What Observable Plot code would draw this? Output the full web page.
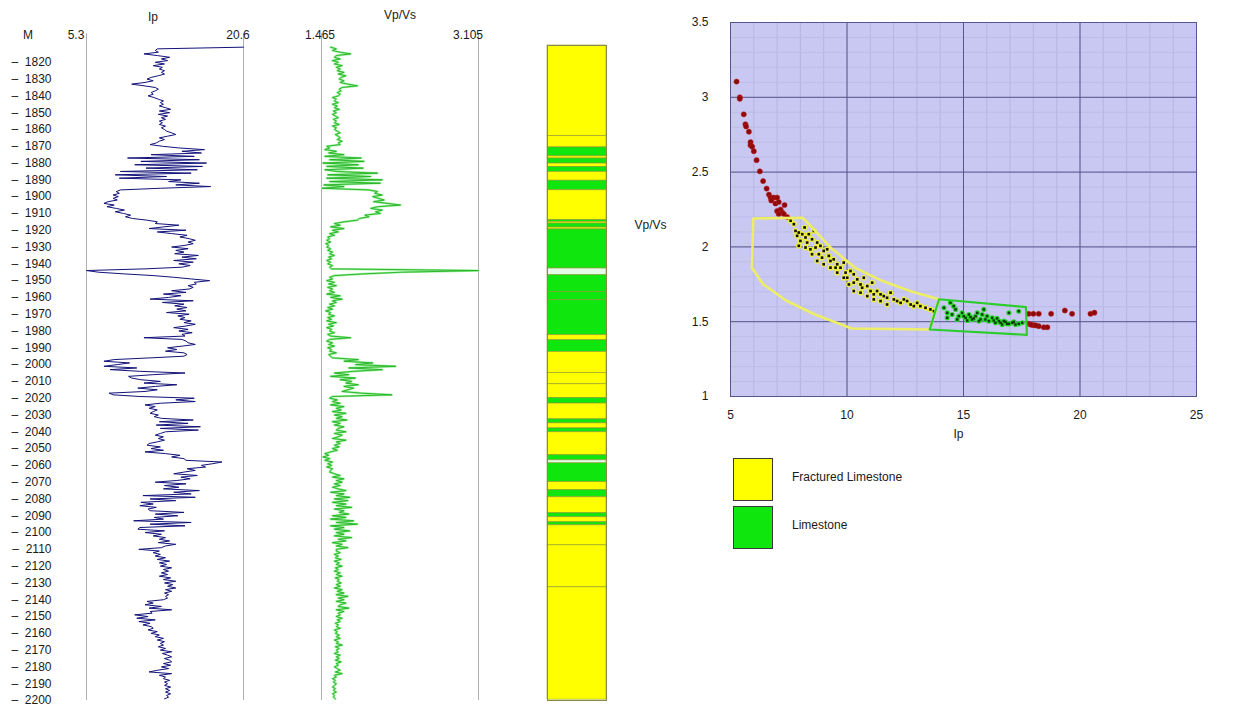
<!DOCTYPE html>
<html><head><meta charset="utf-8">
<script src="https://cdn.jsdelivr.net/npm/d3@7"></script>
<script src="https://cdn.jsdelivr.net/npm/@observablehq/plot@0.6"></script>
<style>
body{margin:0;background:#fff;font-family:"Liberation Sans",Arial,sans-serif;}
#root{position:relative;width:1246px;height:709px;overflow:hidden;background:#fff;}
.lbl{position:absolute;font-size:12px;color:#1a1a1a;white-space:nowrap;transform:translate(-50%,-50%);line-height:1;}
.lbl.left{transform:translate(0,-50%);}
.sw{position:absolute;width:38px;height:41px;border:1px solid #3a3a3a;}
</style></head><body><div id="root"></div>
<script>
// ---------- DATA ----------
const depthStart = 1811;           // first log sample (m), 1 m sampling
const depthRange = [1810, 2200];
const depthTicks = [1820,1830,1840,1850,1860,1870,1880,1890,1900,1910,1920,1930,1940,1950,1960,1970,1980,1990,2000,2010,2020,2030,2040,2050,2060,2070,2080,2090,2100,2110,2120,2130,2140,2150,2160,2170,2180,2190,2200];
const ipRange = [5.3, 20.6];
const vpvsRange = [1.465, 3.105];

const ipLog = [
20.6,12.2,12.0,12.3,10.9,12.2,13.4,12.6,13.2,12.0,
12.9,11.8,12.7,12.4,12.9,12.6,12.9,12.3,11.6,11.2,
11.8,11.0,9.7,10.9,12.0,12.3,12.0,11.6,11.8,11.3,
11.9,12.3,12.8,12.5,12.8,12.4,13.0,13.5,12.4,13.4,
12.3,13.2,12.6,13.0,12.4,12.7,12.4,13.0,12.6,12.9,
13.1,13.6,14.0,13.2,12.4,12.9,12.4,12.1,11.5,12.7,
14.3,16.8,14.6,16.5,11.6,15.8,9.3,16.3,10.6,17.0,
10.0,16.6,11.1,16.1,8.6,15.5,8.1,13.1,8.5,14.5,
13.3,16.3,14.0,17.4,12.5,8.6,8.2,8.5,7.9,8.4,
7.9,8.3,7.4,7.0,8.0,7.3,8.2,9.0,8.1,8.9,
9.6,9.1,9.8,11.2,12.2,12.0,14.3,12.8,11.4,15.0,
12.2,13.6,15.1,14.4,15.3,15.9,15.2,15.7,14.9,13.6,
15.2,14.0,14.8,13.9,16.2,14.6,16.0,13.8,15.7,14.3,
15.4,14.6,11.0,5.3,6.5,9.0,11.8,13.8,15.5,17.3,
15.8,16.0,15.2,15.7,15.3,13.6,15.0,12.8,14.5,13.3,
11.5,15.7,12.7,14.8,13.9,15.1,14.1,15.0,13.1,15.3,
14.2,14.9,14.4,15.5,14.8,15.9,15.0,13.8,15.2,14.3,
15.6,14.6,14.9,10.9,14.6,15.0,15.2,15.9,14.6,13.2,
14.1,13.0,14.8,15.1,14.8,11.5,8.0,7.0,9.5,8.3,
7.0,10.2,7.6,10.5,14.9,11.8,9.4,9.7,10.6,12.5,
10.9,14.1,12.0,10.3,12.2,11.0,7.5,7.9,10.5,15.8,
14.0,15.9,12.5,11.0,12.0,11.4,12.2,11.8,11.5,12.3,
11.9,12.6,15.7,12.4,15.2,12.1,16.4,12.5,16.2,13.0,
12.5,12.0,12.8,12.3,12.9,12.2,11.4,11.2,12.5,11.6,
12.8,11.0,13.0,14.4,13.6,14.8,15.0,18.5,17.6,16.5,
16.9,15.1,15.9,14.8,13.8,16.1,14.5,15.4,14.1,12.0,
15.0,12.9,14.3,12.8,16.3,13.8,15.5,10.8,15.9,11.5,
14.0,10.6,11.8,10.5,12.1,11.3,11.5,14.8,12.0,14.2,
11.9,12.8,9.9,15.5,11.5,14.9,10.5,10.3,12.9,11.0,
12.6,11.8,13.0,12.4,13.4,12.3,14.0,13.0,12.6,10.4,
12.4,11.8,12.5,12.0,13.0,12.2,13.4,12.4,13.1,12.5,
13.6,12.8,13.3,12.6,13.2,12.4,13.5,12.8,14.0,12.9,
13.7,13.2,14.0,13.0,13.6,12.9,13.3,13.0,13.2,12.8,
11.2,11.8,11.0,12.6,11.4,13.6,11.5,11.7,10.0,11.3,
10.2,12.0,10.4,11.5,10.8,11.6,11.8,11.3,12.2,11.6,
12.4,12.0,12.8,12.2,12.9,12.5,12.8,12.3,13.0,12.5,
13.6,12.7,13.2,13.6,12.9,13.4,13.6,12.8,13.5,12.6,
13.3,12.2,11.4,13.6,12.4,13.0,12.8,13.4,12.9,13.2,
12.9,13.5,13.0,13.4,13.0,13.5,13.1,13.3,12.9
];

const vpvsLog = [
1.56,1.62,1.58,1.66,1.77,1.62,1.60,1.66,1.58,1.64,
1.60,1.68,1.62,1.66,1.63,1.70,1.64,1.72,1.67,1.65,
1.70,1.66,1.74,1.84,1.68,1.65,1.67,1.63,1.66,1.64,
1.58,1.62,1.60,1.64,1.58,1.63,1.60,1.65,1.59,1.62,
1.58,1.61,1.64,1.59,1.62,1.60,1.65,1.58,1.62,1.60,
1.63,1.66,1.61,1.64,1.66,1.63,1.68,1.64,1.66,1.52,
1.55,1.50,1.62,1.54,1.70,1.50,1.88,1.55,1.91,1.48,
1.85,1.52,1.90,1.50,1.62,2.05,1.53,1.98,1.52,2.10,
1.55,2.08,1.49,1.70,1.47,1.96,2.05,2.02,2.10,2.00,
2.06,2.12,2.01,2.15,2.29,2.05,1.98,2.10,2.03,2.08,
1.92,1.96,1.86,1.84,1.70,1.60,1.66,1.56,1.70,1.58,
1.64,1.55,1.60,1.53,1.55,1.52,1.56,1.51,1.54,1.52,
1.56,1.53,1.58,1.55,1.60,1.54,1.57,1.52,1.56,1.53,
1.58,1.55,1.57,3.105,2.30,1.90,1.60,1.55,1.58,1.52,
1.60,1.54,1.62,1.53,1.58,1.55,1.60,1.52,1.66,1.56,
1.68,1.58,1.62,1.55,1.60,1.53,1.58,1.51,1.56,1.54,
1.60,1.53,1.57,1.52,1.62,1.54,1.59,1.52,1.57,1.55,
1.60,1.53,1.56,1.77,1.55,1.52,1.58,1.54,1.60,1.53,
1.57,1.55,1.62,1.54,1.56,1.58,1.85,1.70,2.00,1.82,
2.24,1.75,2.10,1.80,1.60,1.75,1.56,1.82,1.66,1.78,
1.72,1.85,1.70,1.80,1.74,1.68,1.88,2.20,1.58,1.55,
1.63,1.58,1.66,1.56,1.70,1.62,1.67,1.58,1.72,1.60,
1.68,1.62,1.73,1.58,1.66,1.60,1.70,1.64,1.62,1.72,
1.60,1.68,1.64,1.58,1.72,1.62,1.66,1.60,1.65,1.58,
1.63,1.56,1.50,1.54,1.48,1.55,1.50,1.58,1.53,1.57,
1.52,1.58,1.56,1.55,1.60,1.66,1.58,1.70,1.62,1.68,
1.60,1.66,1.58,1.64,1.72,1.56,1.70,1.62,1.76,1.60,
1.74,1.58,1.72,1.62,1.78,1.60,1.70,1.65,1.75,1.58,
1.72,1.56,1.80,1.62,1.84,1.56,1.70,1.60,1.76,1.62,
1.70,1.60,1.78,1.64,1.72,1.58,1.68,1.62,1.74,1.62,
1.62,1.66,1.60,1.64,1.61,1.67,1.60,1.65,1.62,1.68,
1.61,1.64,1.60,1.66,1.62,1.68,1.61,1.65,1.63,1.67,
1.62,1.66,1.60,1.68,1.63,1.70,1.62,1.74,1.64,1.70,
1.62,1.72,1.66,1.64,1.75,1.62,1.70,1.64,1.66,1.62,
1.68,1.63,1.66,1.61,1.64,1.62,1.66,1.60,1.63,1.61,
1.65,1.62,1.66,1.60,1.64,1.62,1.68,1.61,1.65,1.62,
1.64,1.60,1.66,1.62,1.65,1.61,1.67,1.62,1.64,1.60,
1.63,1.66,1.61,1.68,1.60,1.62,1.58,1.61,1.59,1.62,
1.60,1.58,1.61,1.59,1.62,1.58,1.60,1.59,1.61
];

// Facies column
const faciesNames = ["Fractured Limestone", "Limestone", "Unassigned"];
const faciesColors = ["#ffff00", "#0ee60e", "#e4fbe8"];
const faciesTop  = [1810,1864,1870.7,1876,1877.3,1880.3,1882.3,1885.3,1890.5,1896.2,1914,1915,1916,1918.4,1919.5,1942.8,1946.8,1956.7,1961.7,1982.5,1985.5,1992.5,2005,2011.7,2020,2023.2,2032.6,2035,2038,2040.3,2054,2057,2058.8,2070,2074.8,2079,2088.5,2090.9,2093.9,2095.7,2107.6,2132.6];
const faciesBase = [1864,1870.7,1876,1877.3,1880.3,1882.3,1885.3,1890.5,1896.2,1914,1915,1916,1918.4,1919.5,1942.8,1946.8,1956.7,1961.7,1982.5,1985.5,1992.5,2005,2011.7,2020,2023.2,2032.6,2035,2038,2040.3,2054,2057,2058.8,2070,2074.8,2079,2088.5,2090.9,2093.9,2095.7,2107.6,2132.6,2199.5];
const faciesCode = [
"Fractured Limestone","Fractured Limestone","Limestone","Fractured Limestone","Limestone","Fractured Limestone","Limestone","Fractured Limestone","Limestone","Fractured Limestone",
"Limestone","Fractured Limestone","Limestone","Fractured Limestone","Limestone","Unassigned","Limestone","Limestone","Limestone","Fractured Limestone",
"Limestone","Fractured Limestone","Fractured Limestone","Fractured Limestone","Limestone","Fractured Limestone","Limestone","Fractured Limestone","Limestone","Fractured Limestone",
"Limestone","Unassigned","Limestone","Fractured Limestone","Limestone","Fractured Limestone","Limestone","Fractured Limestone","Limestone","Fractured Limestone",
"Fractured Limestone","Fractured Limestone"];

// Crossplot
const xTicks = [5, 10, 15, 20, 25];
const yTicks = [1, 1.5, 2, 2.5, 3, 3.5];
const redIp   = [5.26,5.40,5.40,5.57,5.64,5.67,5.79,5.86,5.86,5.93,6.00,6.12,6.26,6.40,6.55,6.65,6.72,6.86,7.00,6.75,6.93,7.07,7.15,7.00,7.22,7.32,7.43,7.07,7.29,
                 17.80,18.00,18.23,18.76,19.35,19.66,20.45,20.62,17.80,18.00,18.23,18.45,18.60,17.90,18.10];
const redVpvs = [3.105,3.00,2.99,2.886,2.82,2.805,2.77,2.70,2.68,2.67,2.64,2.58,2.505,2.44,2.39,2.35,2.33,2.33,2.33,2.31,2.29,2.30,2.25,2.24,2.23,2.28,2.20,2.22,2.22,
                 1.553,1.553,1.553,1.553,1.575,1.553,1.553,1.56,1.486,1.477,1.47,1.463,1.463,1.48,1.475];
const blackIp   = [7.58,7.72,7.79,7.93,7.86,8.08,8.18,8.22,8.00,8.29,8.36,8.50,8.58,8.65,8.43,8.72,8.86,8.79,9.00,9.15,8.93,9.22,9.29,9.43,9.58,9.51,9.72,9.86,9.94,10.01,
                   10.15,10.29,10.08,10.29,10.44,10.58,10.72,10.65,10.87,11.01,11.08,11.15,11.29,11.44,11.58,11.72,11.87,12.01,12.15,12.30,12.44,12.58,12.73,12.87,13.01,13.15,13.37,13.58,13.73,
                   7.93,8.22,8.50,8.72,9.00,9.29,9.58,9.86,10.29,10.58,10.87,11.15,11.44,11.72];
const blackVpvs = [2.175,2.152,2.107,2.096,2.074,2.085,2.130,2.063,2.040,2.029,2.085,2.051,2.107,1.996,1.984,2.029,2.007,1.951,1.973,1.984,1.928,1.940,1.906,1.917,1.884,1.861,1.861,1.895,1.828,1.794,
                   1.839,1.817,1.749,1.761,1.783,1.749,1.794,1.727,1.738,1.705,1.761,1.683,1.705,1.683,1.671,1.660,1.694,1.649,1.638,1.626,1.649,1.638,1.615,1.604,1.626,1.604,1.593,1.582,1.570,
                   2.007,1.996,1.951,1.906,1.884,1.861,1.828,1.794,1.705,1.694,1.671,1.649,1.638,1.615];
const greenIp   = [14.16,14.30,14.44,14.51,14.66,14.80,14.94,15.09,15.23,15.37,15.52,15.66,15.80,15.94,16.09,16.23,16.37,16.52,16.66,16.80,16.95,16.95,17.09,17.23,17.37,17.37,17.52,
                   14.30,14.73,15.16,15.59,15.87,14.58,15.01,15.30,15.44,15.73,16.01,16.30,16.44,16.59,16.73,16.87,17.16];
const greenVpvs = [1.593,1.559,1.627,1.548,1.582,1.537,1.559,1.526,1.548,1.515,1.537,1.504,1.548,1.515,1.504,1.526,1.493,1.504,1.481,1.499,1.559,1.486,1.493,1.481,1.570,1.486,1.493,
                   1.526,1.515,1.508,1.559,1.582,1.604,1.537,1.531,1.522,1.515,1.537,1.508,1.522,1.493,1.504,1.486,1.499];
const polyFracIp   = [5.98,8.10,9.30,10.35,11.55,12.80,13.95,13.55,10.20,8.60,7.40,6.40,5.92,5.98];
const polyFracVpvs = [2.19,2.195,1.995,1.86,1.77,1.70,1.65,1.448,1.455,1.55,1.64,1.75,1.86,2.19];
const polyLimeIp   = [13.95,17.68,17.72,13.55,13.95];
const polyLimeVpvs = [1.65,1.598,1.412,1.448,1.65];

// ---------- DRAW ----------
const root = document.getElementById("root");
const font = "'Liberation Sans', Arial, sans-serif";
const baseStyle = {background: "transparent", fontFamily: font, fontSize: "12px", color: "#1a1a1a", overflow: "visible"};
function place(el, left, top) {
  el.style.position = "absolute"; el.style.left = left + "px"; el.style.top = top + "px";
  root.appendChild(el);
}
function label(text, x, y, cls) {
  const d = document.createElement("div");
  d.className = "lbl" + (cls ? " " + cls : "");
  d.textContent = text; d.style.left = x + "px"; d.style.top = y + "px";
  root.appendChild(d);
}

const logRows = ipLog.map((v, i) => ({depth: depthStart + i, ip: v, vpvs: vpvsLog[i]}));

// Ip track with depth axis
const ipTrack = Plot.plot({
  width: 260, height: 709, marginLeft: 86, marginRight: 17, marginTop: 45, marginBottom: 9,
  style: baseStyle,
  x: {domain: ipRange, axis: null},
  y: {domain: depthRange, reverse: true, ticks: depthTicks, tickSize: 0, tickPadding: 35,
      tickFormat: d => "\u2013\u00a0\u00a0" + d, label: null},
  marks: [
    Plot.ruleX(ipRange, {y1: 1803, y2: 2200, stroke: "#b0b0b0"}),
    Plot.line(logRows, {x: "ip", y: "depth", stroke: "#12127a", strokeWidth: 1})
  ]
});
place(ipTrack, 0, 0);

// Vp/Vs track
const vpTrack = Plot.plot({
  width: 260, height: 709, marginLeft: 61, marginRight: 42, marginTop: 45, marginBottom: 9,
  style: baseStyle,
  x: {domain: vpvsRange, axis: null},
  y: {domain: depthRange, reverse: true, axis: null},
  marks: [
    Plot.ruleX(vpvsRange, {y1: 1803, y2: 2200, stroke: "#b0b0b0"}),
    Plot.line(logRows, {x: "vpvs", y: "depth", stroke: "#9af09a", strokeWidth: 2.2}),
    Plot.line(logRows, {x: "vpvs", y: "depth", stroke: "#22b022", strokeWidth: 0.9})
  ]
});
place(vpTrack, 260, 0);

// Facies column
const faciesRows = faciesTop.map((t, i) => ({top: t, base: faciesBase[i], facies: faciesCode[i]}));
const faciesTrack = Plot.plot({
  width: 80, height: 709, marginLeft: 7, marginRight: 14, marginTop: 45, marginBottom: 9,
  style: baseStyle,
  x: {domain: [0, 1], axis: null},
  y: {domain: depthRange, reverse: true, axis: null},
  color: {domain: faciesNames, range: faciesColors},
  marks: [
    Plot.rect(faciesRows, {x1: () => 0, x2: () => 1, y1: "top", y2: "base", fill: "facies",
      stroke: "#8c9a30", strokeWidth: 0.7, strokeOpacity: 0.85}),
    Plot.frame({stroke: "#8a8a50"})
  ]
});
place(faciesTrack, 540, 0);

// Header labels
label("Ip", 153, 17);
label("Vp/Vs", 400, 15);
label("M", 28, 35);
label("5.3", 76, 35);
label("20.6", 238, 35);
label("1.465", 320, 35);
label("3.105", 468, 35);

// Crossplot
const red = redIp.map((v, i) => ({ip: v, vpvs: redVpvs[i]}));
const black = blackIp.map((v, i) => ({ip: v, vpvs: blackVpvs[i]}));
const green = greenIp.map((v, i) => ({ip: v, vpvs: greenVpvs[i]}));
const polyF = polyFracIp.map((v, i) => ({ip: v, vpvs: polyFracVpvs[i]}));
const polyL = polyLimeIp.map((v, i) => ({ip: v, vpvs: polyLimeVpvs[i]}));
const minorX = d3.range(5, 25.001, 1);
const minorY = d3.range(1, 3.5001, 0.1);

const cross = Plot.plot({
  width: 600, height: 450, marginLeft: 110, marginRight: 24, marginTop: 22, marginBottom: 54,
  style: baseStyle,
  x: {domain: [5, 25], ticks: xTicks, tickSize: 0, tickPadding: 14, label: null},
  y: {domain: [1, 3.5], ticks: yTicks, tickSize: 0, tickPadding: 22, label: null, tickFormat: d => String(d)},
  marks: [
    Plot.frame({fill: "#c8c8f2"}),
    Plot.ruleX(minorX, {stroke: "#b6b6e4", strokeWidth: 1}),
    Plot.ruleY(minorY, {stroke: "#bcbce8", strokeWidth: 1}),
    Plot.ruleX(xTicks, {stroke: "#56568a", strokeWidth: 1}),
    Plot.ruleY(yTicks, {stroke: "#56568a", strokeWidth: 1}),
    Plot.frame({stroke: "#56568a"}),
    Plot.dot(black, {x: "ip", y: "vpvs", r: 2.8, fill: "#f0f040", stroke: "none"}),
    Plot.dot(black, {x: "ip", y: "vpvs", r: 1.5, symbol: "square", fill: "#111"}),
    Plot.dot(green, {x: "ip", y: "vpvs", r: 2.6, fill: "#2ad82a", stroke: "none"}),
    Plot.dot(green, {x: "ip", y: "vpvs", r: 1.4, symbol: "square", fill: "#0c3a0c"}),
    Plot.dot(red, {x: "ip", y: "vpvs", r: 2.6, fill: "#8e0a0a", stroke: "#c02020", strokeWidth: 0.5}),
    Plot.line(polyF, {x: "ip", y: "vpvs", stroke: "#eeee66", strokeWidth: 2.6}),
    Plot.line(polyL, {x: "ip", y: "vpvs", stroke: "#2ccc2c", strokeWidth: 2.2}),
    Plot.text(["Vp/Vs"], {frameAnchor: "left", dx: -96, dy: 16, textAnchor: "start", fill: "#1a1a1a"}),
    Plot.text(["Ip"], {frameAnchor: "bottom", dx: -5, dy: 41, fill: "#1a1a1a"})
  ]
});
place(cross, 620, 0);

// Legend
function swatch(color, x, y) {
  const d = document.createElement("div");
  d.className = "sw"; d.style.left = x + "px"; d.style.top = y + "px"; d.style.background = color;
  root.appendChild(d);
}
swatch(faciesColors[0], 733, 458);
swatch(faciesColors[1], 733, 506);
label(faciesNames[0], 792, 477, "left");
label(faciesNames[1], 792, 525, "left");
</script>
</body></html>
